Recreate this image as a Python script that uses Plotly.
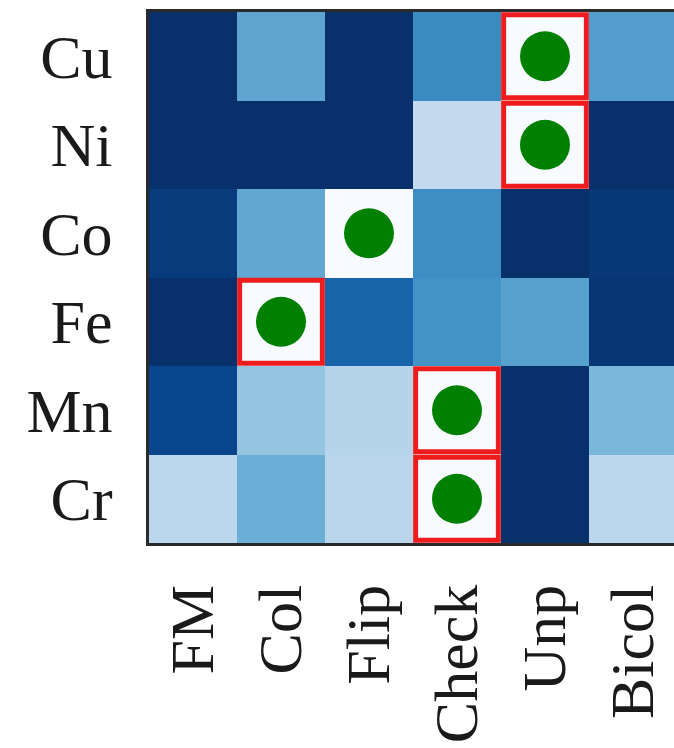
import plotly.graph_objects as go

# ---- data ----
rows = ["Cu", "Ni", "Co", "Fe", "Mn", "Cr"]
cols = ["FM", "Col", "Flip", "Check", "Unp", "Bicol"]

cu = [1.00, 0.54, 1.00, 0.65, 0.00, 0.57]
ni = [1.00, 1.00, 1.00, 0.26, 0.00, 1.00]
co = [0.96, 0.53, 0.00, 0.64, 1.00, 0.97]
fe = [1.00, 0.00, 0.80, 0.62, 0.56, 0.98]
mn = [0.92, 0.40, 0.30, 0.00, 1.00, 0.46]
cr = [0.28, 0.50, 0.29, 0.00, 1.00, 0.28]

best_col = ["Unp", "Unp", "Flip", "Col", "Check", "Check"]
boxed = [True, True, False, True, True, True]

# ---- style ----
blues = ["#f7fbff", "#deebf7", "#c6dbef", "#9ecae1", "#6baed6",
         "#4292c6", "#2171b5", "#08519c", "#08306b"]
colorscale = [[i / (len(blues) - 1), c] for i, c in enumerate(blues)]
FONT = dict(family="Liberation Serif, Times New Roman, serif", size=62, color="#1a1a1a")
RED = "#ee1c1c"
GREEN = "#008000"
BOX_W = 5
INSET = 0.03

z = [cu, ni, co, fe, mn, cr]

fig = go.Figure()
fig.add_trace(go.Heatmap(
    z=z, x=cols, y=rows, colorscale=colorscale, zmin=0, zmax=1,
    showscale=False, hoverinfo="skip"))

fig.add_trace(go.Scatter(
    x=best_col, y=rows, mode="markers",
    marker=dict(color=GREEN, size=50, line=dict(width=0)),
    showlegend=False, hoverinfo="skip"))

for r, c, b in zip(rows, best_col, boxed):
    if not b:
        continue
    xi = cols.index(c)
    yi = rows.index(r)
    fig.add_shape(type="rect", xref="x", yref="y",
                  x0=xi - 0.5 + INSET, x1=xi + 0.5 - INSET,
                  y0=yi - 0.5 + INSET, y1=yi + 0.5 - INSET,
                  line=dict(color=RED, width=BOX_W), layer="above")

fig.update_layout(
    width=677, height=748,
    margin=dict(l=149, r=0, t=12, b=205, autoexpand=False),
    paper_bgcolor="white", plot_bgcolor="white",
    showlegend=False,
    xaxis=dict(type="category", range=[-0.5, 5.5], tickangle=-90, tickfont=FONT,
               ticks="", ticklabelstandoff=14, showline=True, linecolor="#2a2a2a",
               linewidth=3, mirror=True, showgrid=False, zeroline=False,
               automargin=False),
    yaxis=dict(type="category", range=[5.5, -0.5], tickfont=FONT,
               ticks="", ticklabelstandoff=21, showline=True, linecolor="#2a2a2a",
               linewidth=3, mirror=False, showgrid=False, zeroline=False,
               automargin=False),
)

fig.write_html(
    "out.html",
    config={"displayModeBar": False},
    post_script="document.body.style.margin='0';document.body.style.overflow='hidden';",
)
